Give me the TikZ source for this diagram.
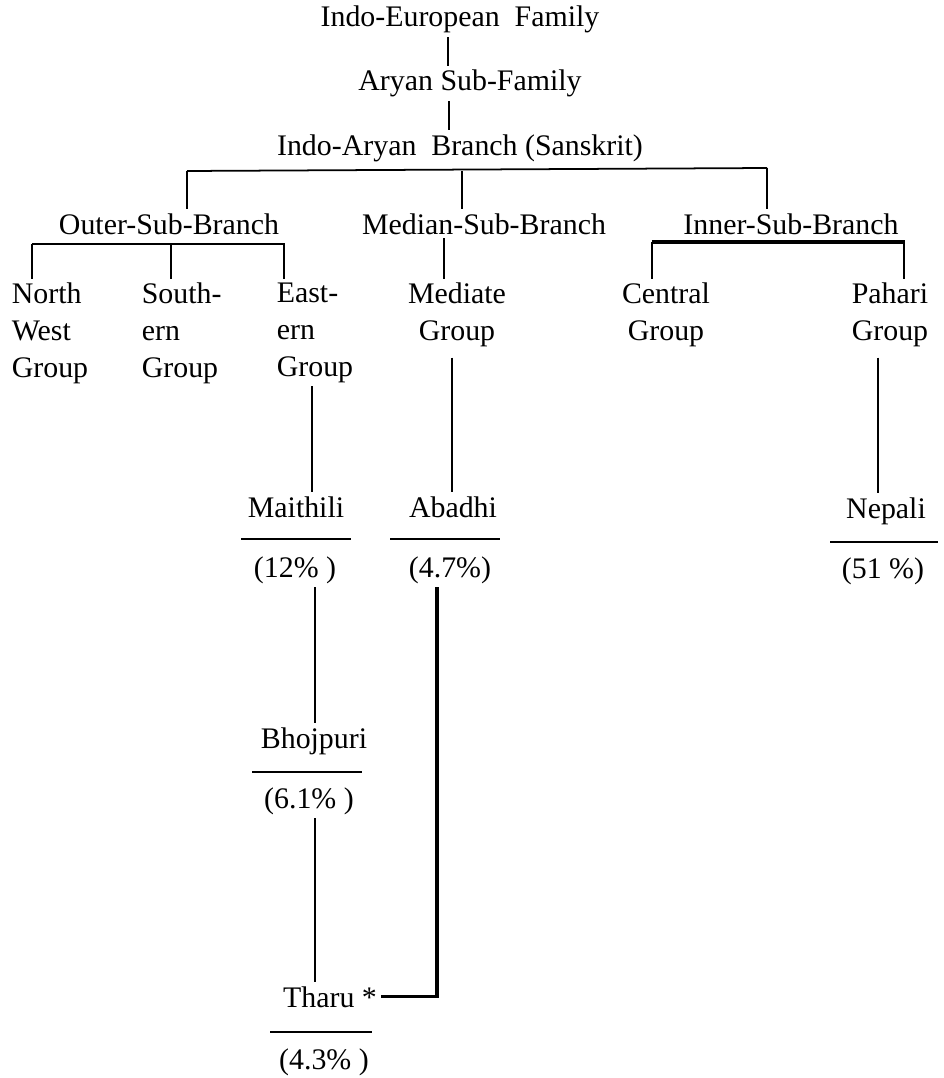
\documentclass[tikz,border=0pt]{standalone}
\usepackage{fontspec}
\setmainfont{Liberation Serif}
\usepackage{tikz}
\usetikzlibrary{positioning}
\tikzstyle{branch} = [line width=1pt]
\tikzstyle{heavy} = [line width=1.8pt]

\begin{document}
\begin{tikzpicture}[x=0.02cm, y=-0.02cm]
    \tikzstyle{every node}=[font=\fontsize{17}{21}\selectfont, inner sep=2pt]
    \tikzstyle{head} = [anchor=base]
    \tikzstyle{lang} = [anchor=base]
    \tikzstyle{grp} = [anchor=north west, align=left]
    \tikzstyle{cgrp} = [anchor=north, align=center]
    \tikzstyle{uline} = [line width=1pt]

    \useasboundingbox (0,0) rectangle (943,1078);

    % family, sub-family, branch
    \node[head](fam) at (460,27) {Indo-European\ \ Family};
    \node[head](sub) at (470,91) {Aryan Sub-Family};
    \node[head](ia) at (460,155) {Indo-Aryan\ \ Branch (Sanskrit)};

    \node[head](outer) at (169,234) {Outer-Sub-Branch};
    \node[head](median) at (484,234) {Median-Sub-Branch};
    \node[head](inner) at (791,234) {Inner-Sub-Branch};

    % groups
    \node[grp](nw) at (8,279) {North\\West\\Group};
    \node[grp](south) at (138,279) {South-\\ern\\Group};
    \node[grp](east) at (273,279) {East-\\ern\\Group};
    \node[cgrp](mediate) at (457,279) {Mediate\\Group};
    \node[cgrp](central) at (666,279) {Central\\Group};
    \node[cgrp](pahari) at (890,279) {Pahari\\Group};

    % languages
    \node[lang](maithili) at (296,517) {Maithili};
    \node[lang](pmaithili) at (295,577) {(12\% )};
    \node[lang](abadhi) at (453,517) {Abadhi};
    \node[lang](pabadhi) at (450,577) {(4.7\%)};
    \node[lang](nepali) at (886,518) {Nepali};
    \node[lang](pnepali) at (883,578) {(51 \%)};
    \node[lang](bhojpuri) at (314,748) {Bhojpuri};
    \node[lang](pbhojpuri) at (309,808) {(6.1\% )};
    \node[lang](tharu) at (330,1007) {Tharu *};
    \node[lang](ptharu) at (324,1069) {(4.3\% )};

    \coordinate (barL) at (187,171);
    \coordinate (barR) at (767,168);
    \coordinate (obL) at (32,244);
    \coordinate (obR) at (285,244);
    \coordinate (ibL) at (652,242);
    \coordinate (ibR) at (905,242);

    \draw[branch] (fam.south -| 448,0) -- (sub.north -| 448,0);
    \draw[branch] (sub.south -| 449,0) -- (ia.north -| 449,0);
    \draw[branch] (barL) -- (barR);
    \draw[branch] (barL) -- (outer.north -| barL);
    \draw[branch] (barL -| 462,0) -- (median.north -| 462,0);
    \draw[branch] (barR) -- (inner.north -| barR);

    \draw[branch] (obL) -- (obR);
    \draw[branch] (obL) -- (nw.north -| obL);
    \draw[branch] (obL -| 171,0) -- (south.north -| 171,0);
    \draw[branch] (obR -| 284,0) -- (east.north -| 284,0);
    \draw[branch] (median.south -| 444,0) -- (mediate.north -| 444,0);
    \draw[heavy] (ibL) -- (ibR);
    \draw[branch] (ibL) -- (central.north -| ibL);
    \draw[branch] (ibR -| 904,0) -- (pahari.north -| 904,0);

    \draw[branch] (east.south -| 312,0) -- (maithili.north -| 312,0);
    \draw[branch, shorten <=0.14cm] (mediate.south -| 452,0) -- (abadhi.north -| 452,0);
    \draw[branch, shorten <=0.14cm] (pahari.south -| 878,0) -- (nepali.north -| 878,0);
    \draw[branch] (pmaithili.south -| 315,0) -- (bhojpuri.north -| 315,0);
    \draw[branch] (pbhojpuri.south -| 315,0) -- (tharu.north -| 315,0);
    \draw[heavy] (pabadhi.south -| 437,0) |- (tharu.east);

    % rules between name and share
    \draw[uline] (296,539) ++(-55,0) -- ++(110,0);
    \draw[uline] (445,539) ++(-55,0) -- ++(110,0);
    \draw[uline] (884,542) ++(-54,0) -- ++(108,0);
    \draw[uline] (307,772) ++(-55,0) -- ++(110,0);
    \draw[uline] (321,1032) ++(-51,0) -- ++(102,0);
\end{tikzpicture}
\end{document}
